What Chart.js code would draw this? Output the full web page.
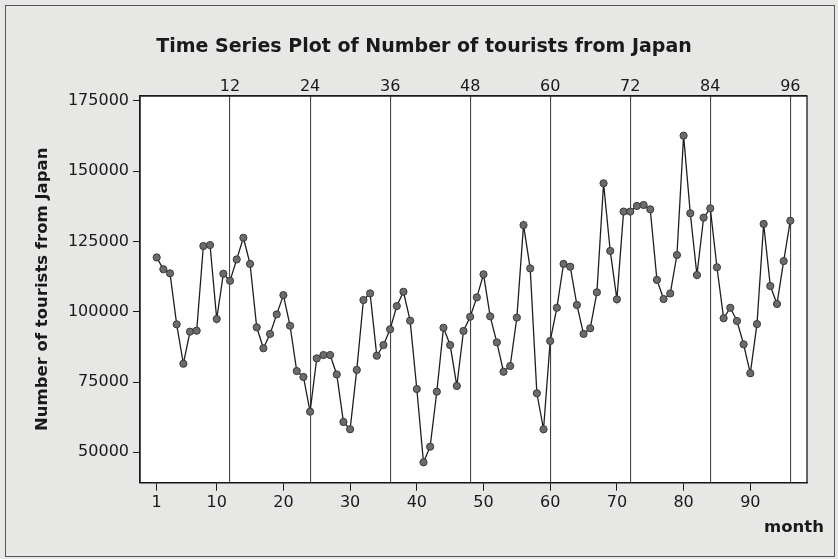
<!DOCTYPE html>
<html>
<head>
<meta charset="utf-8">
<title>Time Series Plot of Number of tourists from Japan</title>
<script src="https://cdn.jsdelivr.net/npm/chart.js@4.4.0/dist/chart.umd.min.js"></script>
<style>
  html, body { margin: 0; padding: 0; background: #e7e7e5; }
  #wrap { width: 838px; height: 559px; }
</style>
</head>
<body>
<div id="wrap"><canvas id="touristChart" width="838" height="559"></canvas></div>
<script>
// monthly index and number of tourists from Japan
const months = [
  1, 2, 3, 4, 5, 6, 7, 8, 9, 10, 11, 12,
  13, 14, 15, 16, 17, 18, 19, 20, 21, 22, 23, 24,
  25, 26, 27, 28, 29, 30, 31, 32, 33, 34, 35, 36,
  37, 38, 39, 40, 41, 42, 43, 44, 45, 46, 47, 48,
  49, 50, 51, 52, 53, 54, 55, 56, 57, 58, 59, 60,
  61, 62, 63, 64, 65, 66, 67, 68, 69, 70, 71, 72,
  73, 74, 75, 76, 77, 78, 79, 80, 81, 82, 83, 84,
  85, 86, 87, 88, 89, 90, 91, 92, 93, 94, 95, 96
];
const tourists = [
  119300, 115100, 113650, 95500, 81500, 92900, 93250, 123360, 123700, 97400, 113500, 111000,
  118600, 126300, 117000, 94450, 87000, 92100, 99050, 105900, 95000, 78900, 76800, 64450,
  83400, 84600, 84600, 77700, 60800, 58200, 79300, 104150, 106500, 84350, 88150, 93750,
  102000, 107100, 96800, 72500, 46450, 52000, 71550, 94300, 88150, 73600, 93150, 98200,
  105100, 113300, 98350, 89100, 78650, 80700, 97900, 130800, 115400, 71000, 58200, 89600,
  101400, 117000, 116000, 102400, 92100, 94100, 106900, 145650, 121600, 104400, 135600, 135600,
  137600, 137950, 136400, 111300, 104500, 106500, 120150, 162600, 135000, 113050, 133450, 136750,
  115800, 97650, 101400, 96700, 88400, 78100, 95600, 131200, 109150, 102750, 118000, 132350
];

// year boundaries (reference lines) and axis ticks
const refMonths = [12, 24, 36, 48, 60, 72, 84, 96];
const monthTicks = [1, 10, 20, 30, 40, 50, 60, 70, 80, 90];
const countTicks = [50000, 75000, 100000, 125000, 150000, 175000];

const chartTitle = 'Time Series Plot of Number of tourists from Japan';
const yTitle = 'Number of tourists from Japan';
const xTitle = 'month';

const FONT = "'DejaVu Sans', Verdana, sans-serif";
Chart.defaults.font.family = FONT;
Chart.defaults.color = '#1a1a1a';

const points = months.map((m, i) => ({ x: m, y: tourists[i] }));

// background, frame and free text
const decor = {
  id: 'decor',
  beforeDraw(chart) {
    const { ctx, chartArea: a } = chart;
    ctx.save();
    ctx.fillStyle = '#e7e7e5';
    ctx.fillRect(0, 0, chart.width, chart.height);
    ctx.fillStyle = '#ffffff';
    ctx.fillRect(a.left, a.top, a.right - a.left, a.bottom - a.top);
    ctx.restore();
  },
  afterDraw(chart) {
    const { ctx, chartArea: a } = chart;
    ctx.save();
    ctx.strokeStyle = '#1a1a1a';
    ctx.lineWidth = 1.3;
    ctx.strokeRect(a.left, a.top, a.right - a.left, a.bottom - a.top);

    // outer frame of the graph window
    ctx.strokeStyle = '#555';
    ctx.lineWidth = 1;
    ctx.strokeRect(5.5, 5.5, 829, 551);

    ctx.fillStyle = '#1a1a1a';
    ctx.textAlign = 'center';
    ctx.textBaseline = 'middle';
    ctx.font = 'bold 19px ' + FONT;
    ctx.fillText(chartTitle, 424, 47);

    ctx.font = 'bold 16.5px ' + FONT;
    ctx.fillText(xTitle, 794, 528);

    ctx.translate(43, (a.top + a.bottom) / 2);
    ctx.rotate(-Math.PI / 2);
    ctx.fillText(yTitle, 0, 0);
    ctx.restore();
  }
};

new Chart(document.getElementById('touristChart'), {
  type: 'line',
  data: {
    datasets: [{
      data: points,
      borderColor: '#1e1e1e',
      borderWidth: 1.3,
      pointRadius: 3.6,
      pointBackgroundColor: '#6b6b6b',
      pointBorderColor: '#3a3a3a',
      pointBorderWidth: 1,
      tension: 0,
      fill: false
    }]
  },
  options: {
    responsive: false,
    animation: false,
    devicePixelRatio: 1,
    layout: { padding: { left: 0, top: 0, right: 31, bottom: 0 } },
    plugins: {
      legend: { display: false },
      tooltip: { enabled: false }
    },
    scales: {
      x: {
        type: 'linear',
        position: 'bottom',
        min: -1.5,
        max: 98.5,
        afterBuildTicks: s => { s.ticks = monthTicks.map(v => ({ value: v })); },
        afterFit: s => { s.height = 76.3; },
        grid: { drawOnChartArea: false, tickLength: 8, color: '#1a1a1a', lineWidth: 1 },
        border: { color: '#1a1a1a', width: 1.3 },
        ticks: { font: { size: 16 }, padding: 3, maxRotation: 0, autoSkip: false }
      },
      xTop: {
        type: 'linear',
        position: 'top',
        min: -1.5,
        max: 98.5,
        afterBuildTicks: s => { s.ticks = refMonths.map(v => ({ value: v })); },
        afterFit: s => { s.height = 96; },
        grid: { drawOnChartArea: true, drawTicks: false, color: '#444', lineWidth: 1.1 },
        border: { color: '#1a1a1a', width: 1.3 },
        ticks: { font: { size: 16 }, padding: 0, maxRotation: 0, autoSkip: false }
      },
      y: {
        min: 39200,
        max: 176700,
        afterBuildTicks: s => { s.ticks = countTicks.map(v => ({ value: v })); },
        afterFit: s => { s.width = 140; },
        grid: { drawOnChartArea: false, tickLength: 7, color: '#1a1a1a', lineWidth: 1 },
        border: { color: '#1a1a1a', width: 1.3 },
        ticks: { font: { size: 16 }, padding: 4, callback: v => String(v) }
      }
    }
  },
  plugins: [decor]
});
</script>
</body>
</html>
